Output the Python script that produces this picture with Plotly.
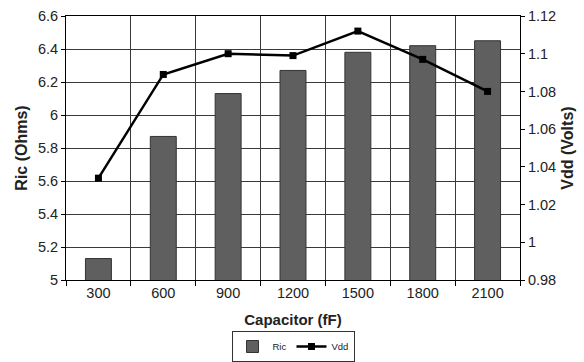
import plotly.graph_objects as go

capacitor = ["300", "600", "900", "1200", "1500", "1800", "2100"]
ric = [5.13, 5.87, 6.13, 6.27, 6.38, 6.42, 6.45]
vdd = [1.034, 1.089, 1.100, 1.099, 1.112, 1.097, 1.080]

font_family = "Liberation Sans, Arial, sans-serif"
grid = "#3a3a3a"

fig = go.Figure()
fig.add_trace(go.Bar(
    x=capacitor, y=ric, name="Ric",
    marker=dict(color="#5f5f5f", line=dict(color="#333333", width=1)),
    width=0.4,
))
fig.add_trace(go.Scatter(
    x=capacitor, y=vdd, name="Vdd", yaxis="y2",
    mode="lines+markers",
    line=dict(color="#000000", width=2.5),
    marker=dict(symbol="square", size=7, color="#000000"),
))

fig.update_layout(
    width=584, height=362,
    margin=dict(l=66, r=64, t=16, b=82),
    paper_bgcolor="white", plot_bgcolor="white",
    font=dict(family=font_family, size=14.5, color="#222222"),
    showlegend=True,
    legend=dict(
        orientation="h", xref="paper", x=0.5, xanchor="center",
        yref="container", y=0.0, yanchor="bottom",
        font=dict(size=9.5), bordercolor="#333333", borderwidth=1,
        itemwidth=30, tracegroupgap=0, bgcolor="white",
    ),
    xaxis=dict(
        type="category", tickson="boundaries", automargin=False,
        showgrid=True, gridcolor=grid, gridwidth=1,
        showline=True, linecolor="#000000", linewidth=1, mirror=True,
        ticks="outside", ticklen=5, tickcolor="#000000",
        title=dict(text="<b>Capacitor (fF)</b>", font=dict(size=15), standoff=14),
    ),
    yaxis=dict(
        range=[5, 6.6], tick0=5, dtick=0.2, tickmode="linear", automargin=False,
        showgrid=True, gridcolor=grid, gridwidth=1,
        showline=True, linecolor="#000000", linewidth=1,
        ticks="outside", ticklen=4, tickcolor="#000000",
        zeroline=False,
        title=dict(text="<b>Ric (Ohms)</b>", font=dict(size=16), standoff=6),
    ),
    yaxis2=dict(
        overlaying="y", side="right", automargin=False,
        range=[0.98, 1.12], tick0=0.98, dtick=0.02, tickmode="linear",
        showgrid=False,
        showline=True, linecolor="#000000", linewidth=1,
        ticks="outside", ticklen=4, tickcolor="#000000",
        zeroline=False,
        title=dict(text="<b>Vdd (Volts)</b>", font=dict(size=16), standoff=6),
    ),
)

fig.write_html("out.html")
